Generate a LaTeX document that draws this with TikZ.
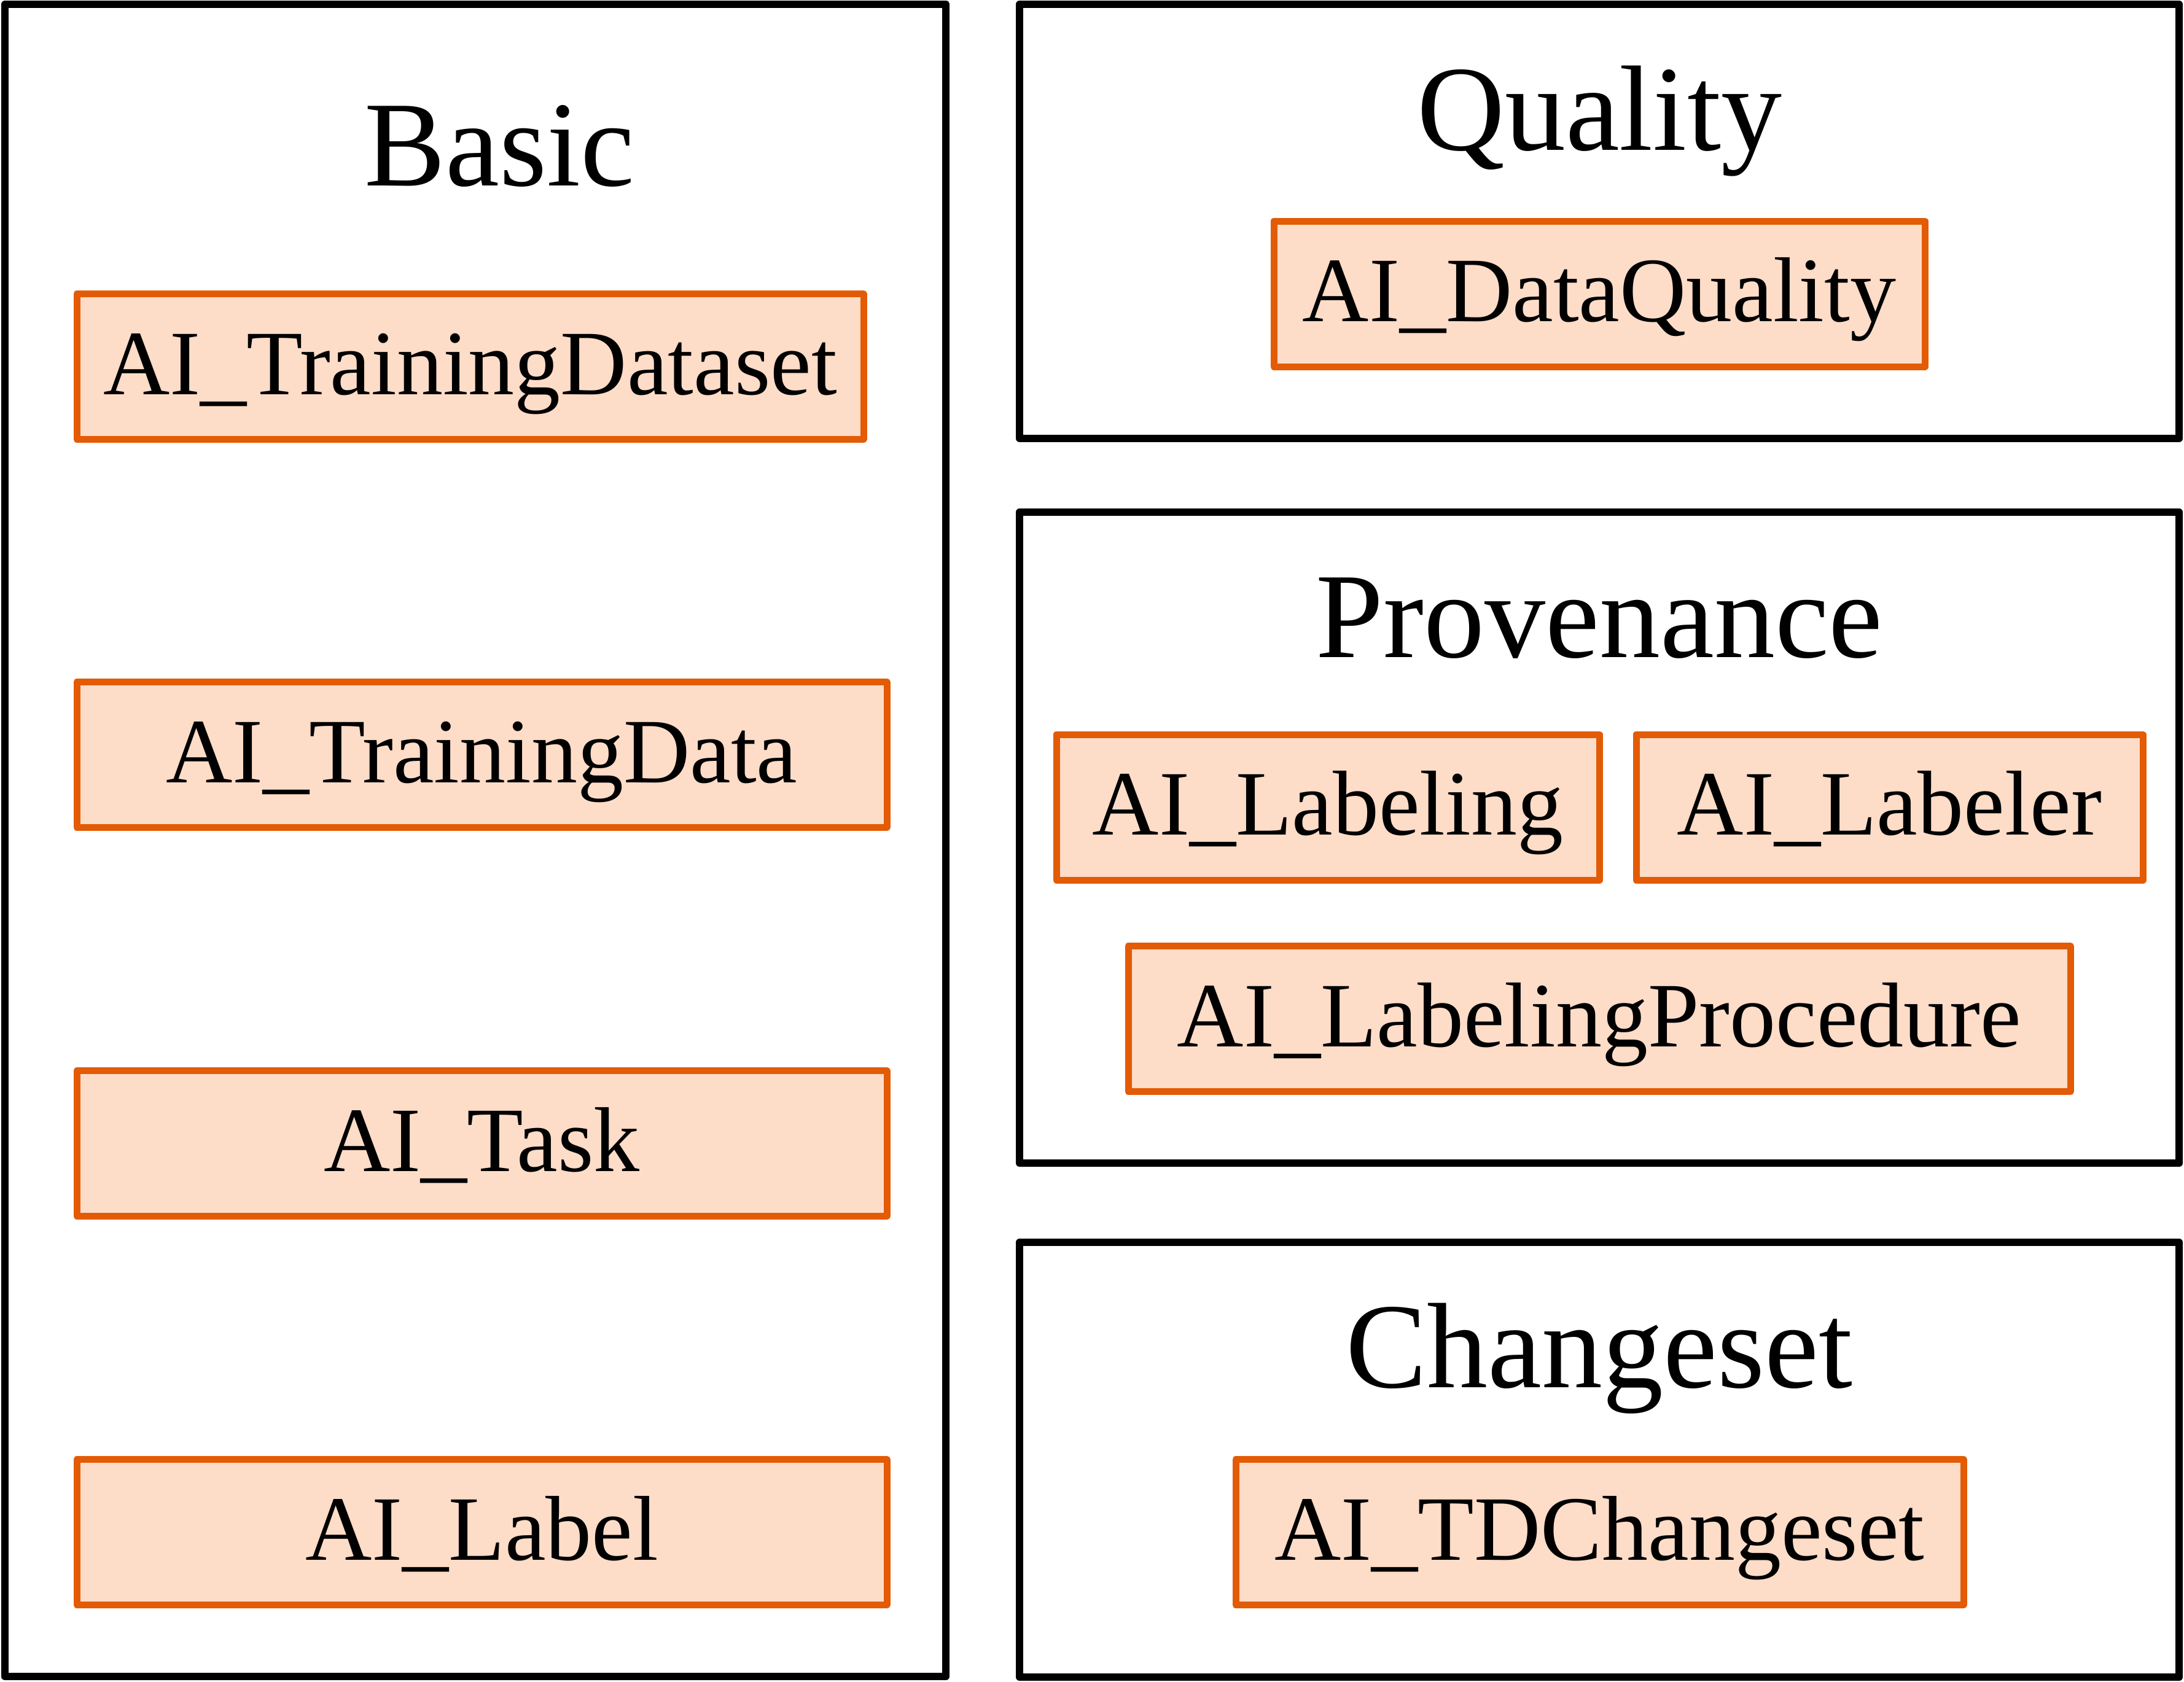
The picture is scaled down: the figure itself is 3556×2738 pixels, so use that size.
\documentclass[tikz,border=0pt]{standalone}
\usepackage{fontspec}
\setmainfont{Liberation Serif}
\definecolor{boxorange}{HTML}{E35B05}
\definecolor{boxfill}{HTML}{FDDCC8}
\begin{document}
\begin{tikzpicture}[x=1pt,y=-1pt,
  grp/.style={draw=black, line width=12pt, line join=round, inner sep=0pt, minimum width=#1},
  item/.style={draw=boxorange, fill=boxfill, line width=11pt, line join=round, inner sep=0pt,
    minimum height=237pt, text height=100pt, text depth=10pt,
    font=\fontsize{150}{158}\selectfont},
  ttl/.style={anchor=base, inner sep=0pt, font=\fontsize{198}{210}\selectfont}]
\useasboundingbox (0,0) rectangle (3556,2738);
% group frames
\node[grp=1532pt, minimum height=2723pt] (basic) at (774,1368.5) {};
\node[grp=1888pt, minimum height=707pt] (quality) at (2604,360.5) {};
\node[grp=1888pt, minimum height=1060pt] (prov) at (2604,1364) {};
\node[grp=1888pt, minimum height=708pt] (chg) at (2604,2377) {};
% titles
\node[ttl] (tbasic) at (813,302) {Basic};
\node[ttl] (tquality) at (2604,244) {Quality};
\node[ttl] (tprov) at (2604,1070) {Provenance};
\node[ttl] (tchg) at (2604,2259) {Changeset};
% items
\node[item, minimum width=1281pt] (tds) at (765.5,597) {AI\_TrainingDataset};
\node[item, minimum width=1319pt] (td) at (784.5,1229) {AI\_TrainingData};
\node[item, minimum width=1319pt] (task) at (784.5,1862) {AI\_Task};
\node[item, minimum width=1319pt] (label) at (784.5,2495) {AI\_Label};
\node[item, minimum width=1060pt] (dq) at (2604,478.5) {AI\_DataQuality};
\node[item, minimum width=884pt] (lab) at (2162,1314.5) {AI\_Labeling};
\node[item, minimum width=825pt] (labr) at (3076.5,1314.5) {AI\_Labeler};
\node[item, minimum width=1534pt] (lproc) at (2604,1659) {AI\_LabelingProcedure};
\node[item, minimum width=1185pt] (tdc) at (2604.5,2495) {AI\_TDChangeset};
\end{tikzpicture}
\end{document}
